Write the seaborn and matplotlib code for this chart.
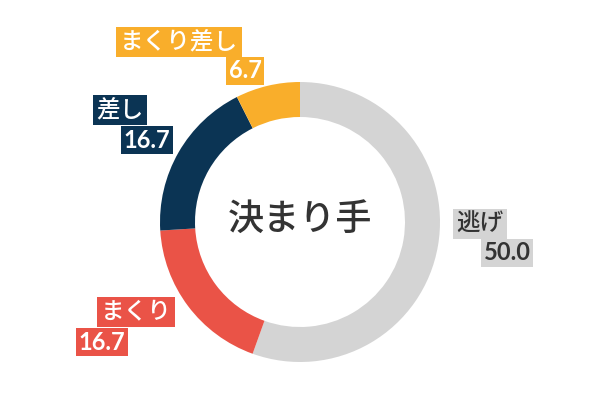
import matplotlib
matplotlib.use("Agg")
import matplotlib.pyplot as plt
import seaborn as sns

sns.set_theme(style="white")
plt.rcParams["font.family"] = ["Noto Sans CJK JP", "DejaVu Sans"]

# data
names = ["逃げ", "まくり", "差し", "まくり差し"]
values = [50.0, 16.7, 16.7, 6.7]
colors = ["#d4d4d4", "#ea5347", "#0b3454", "#f9ae2b"]
text_colors = ["#333333", "white", "white", "white"]
center_title = "決まり手"

# label anchor positions (pixels, y down): name line, value line
name_pos = [(480, 224), (136, 312), (120, 110), (179, 42)]
value_pos = [(507, 253), (102, 342), (147, 140), (245, 71)]

fig = plt.figure(figsize=(6, 4), dpi=100)
ax = fig.add_axes([0, 0, 1, 1])

ax.pie(
    values,
    colors=colors,
    startangle=90,
    counterclock=False,
    center=(300, 178),
    radius=140,
    wedgeprops=dict(width=35, edgecolor="none"),
)
ax.set_xlim(0, 600)
ax.set_ylim(0, 400)
ax.set_aspect("equal")
ax.axis("off")

ax.text(300, 180, center_title, ha="center", va="center",
        fontsize=26, color="#333333", fontweight="medium")

for i in range(len(names)):
    nx, ny = name_pos[i]
    vx, vy = value_pos[i]
    ax.text(nx, 400 - ny, names[i], ha="center", va="center",
            fontsize=17, color=text_colors[i], fontweight="medium",
            bbox=dict(boxstyle="square,pad=0.15", fc=colors[i], ec="none"))
    ax.text(vx, 400 - vy, f"{values[i]:.1f}", ha="center", va="center",
            fontsize=17, color=text_colors[i], family=["Lato", "DejaVu Sans"],
            fontweight="bold",
            bbox=dict(boxstyle="square,pad=0.12", fc=colors[i], ec="none"))

fig.savefig("out.png", dpi=100)
